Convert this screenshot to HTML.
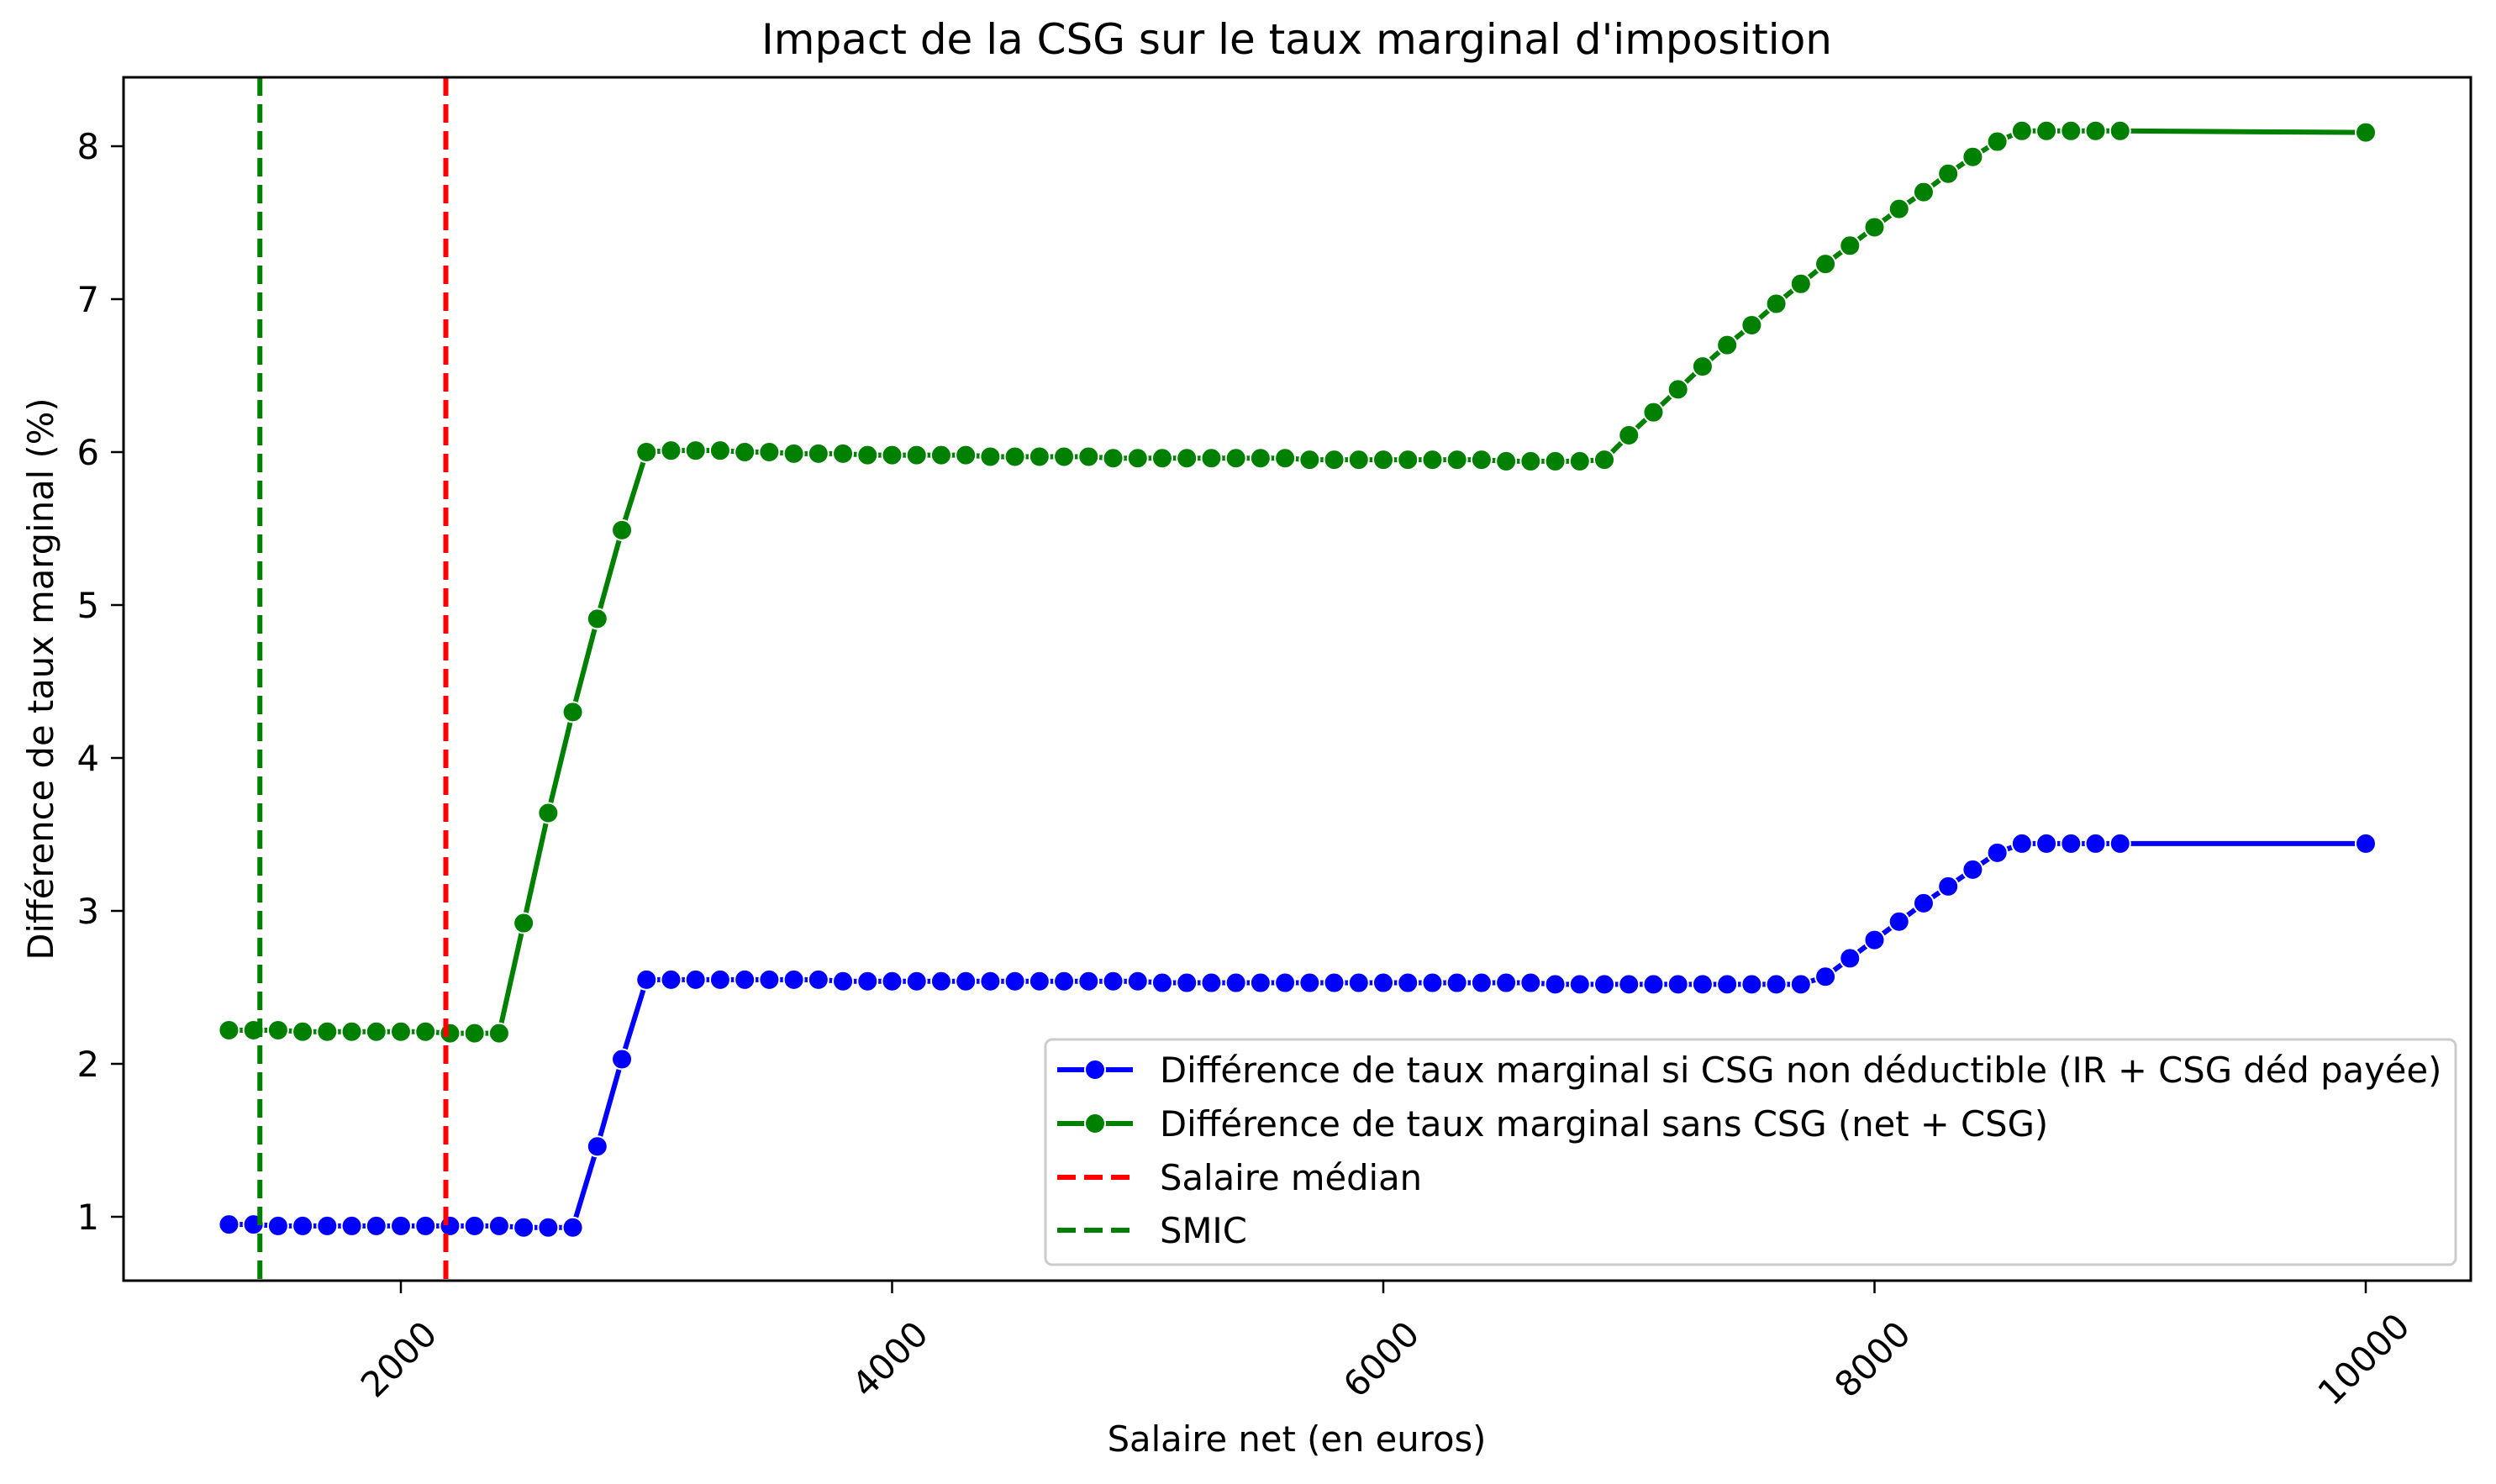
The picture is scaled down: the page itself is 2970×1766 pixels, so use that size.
<!DOCTYPE html>
<html><head><meta charset="utf-8"><style>
html,body{margin:0;padding:0;background:#fff;}
svg{display:block;font-family:"DejaVu Sans","Liberation Sans",sans-serif;}
</style></head><body>
<svg id="chart" width="2970" height="1766" viewBox="0 0 2970 1766" xmlns="http://www.w3.org/2000/svg">
<rect width="2970" height="1766" fill="#fff"/>
<text x="1543" y="64" font-size="50" text-anchor="middle">Impact de la CSG sur le taux marginal d'imposition</text>
<g id="plot"></g>
<rect x="147" y="92" width="2793" height="1432" fill="none" stroke="#000" stroke-width="3"/>
<g id="axes"></g>
<text x="1543" y="1727" font-size="41.7" text-anchor="middle">Salaire net (en euros)</text>
<text transform="translate(63,808) rotate(-90)" font-size="41.7" text-anchor="middle">Différence de taux marginal (%)</text>
<g>
<rect x="1244" y="1237" width="1678" height="268" rx="8" fill="#fff" fill-opacity="0.8" stroke="#ccc" stroke-width="3"/>
<g>
<line x1="1258" y1="1273" x2="1348" y2="1273" stroke="#0000ff" stroke-width="6"/>
<circle cx="1303" cy="1273" r="12" fill="#0000ff" stroke="#fff" stroke-width="2"/>
<text x="1380" y="1288" font-size="41.7">Différence de taux marginal si CSG non déductible (IR + CSG déd payée)</text></g>
<g>
<line x1="1258" y1="1337" x2="1348" y2="1337" stroke="#008000" stroke-width="6"/>
<circle cx="1303" cy="1337" r="12" fill="#008000" stroke="#fff" stroke-width="2"/>
<text x="1380" y="1352" font-size="41.7">Différence de taux marginal sans CSG (net + CSG)</text></g>
<g>
<line x1="1258" y1="1401" x2="1348" y2="1401" stroke="#ff0000" stroke-width="6" stroke-dasharray="22 10"/>
<text x="1380" y="1416" font-size="41.7">Salaire médian</text></g>
<g>
<line x1="1258" y1="1464" x2="1348" y2="1464" stroke="#008000" stroke-width="6" stroke-dasharray="22 10"/>
<text x="1380" y="1479" font-size="41.7">SMIC</text></g>
</g>
</svg>
<script>
const xs = [];
for (let v = 1300; v <= 9000; v += 100) xs.push(v);
xs.push(10000);
const blueVals = [0.95,0.95,0.94,0.94,0.94,0.94,0.94,0.94,0.94,0.94,0.94,0.94,0.93,0.93,0.93,
1.46,2.03,2.55,2.55,2.55,2.55,2.55,2.55,2.55,2.55,2.54,2.54,2.54,2.54,2.54,2.54,2.54,2.54,2.54,2.54,2.54,2.54,2.54,2.53,2.53,2.53,2.53,2.53,2.53,2.53,2.53,2.53,2.53,2.53,2.53,2.53,2.53,2.53,2.53,2.52,2.52,2.52,2.52,2.52,2.52,2.52,2.52,2.52,2.52,2.52,
2.57,2.69,2.81,2.93,3.05,3.16,3.27,3.38,3.44,3.44,3.44,3.44,3.44,3.44];
const greenVals = [2.22,2.22,2.22,2.21,2.21,2.21,2.21,2.21,2.21,2.20,2.20,2.20,
2.92,3.64,4.30,4.91,5.49,6.00,6.01,6.01,6.01,6.00,6.00,5.99,5.99,5.99,5.98,5.98,5.98,5.98,5.98,5.97,5.97,5.97,5.97,5.97,5.96,5.96,5.96,5.96,5.96,5.96,5.96,5.96,5.95,5.95,5.95,5.95,5.95,5.95,5.95,5.95,5.94,5.94,5.94,5.94,5.95,
6.11,6.26,6.41,6.56,6.70,6.83,6.97,7.10,7.23,7.35,7.47,7.59,7.70,7.82,7.93,8.03,8.10,8.10,8.10,8.10,8.10,8.09];
const xTicks = [2000,4000,6000,8000,10000];
const yTicks = [1,2,3,4,5,6,7,8];
const smicX = 1426;
const medianX = 2183;

const NS = "http://www.w3.org/2000/svg";
const X = v => 477 + (v - 2000) * 0.29225;
const Y = v => 1448 - (v - 1) * 182;
const plot = document.getElementById('plot');
const axes = document.getElementById('axes');
function mk(tag, attrs, parent) {
  const e = document.createElementNS(NS, tag);
  for (const k in attrs) e.setAttribute(k, attrs[k]);
  parent.appendChild(e);
  return e;
}
function vline(x, color, name) {
  const l = mk('line', {x1: X(x), x2: X(x), y1: 92, y2: 1524, stroke: color, 'stroke-width': 6, 'stroke-dasharray': '22 10'}, plot);
  
  
}
function series(vals, color, name) {
  const g = mk('g', {}, plot);
  
  
  const pts = vals.map((v, i) => X(xs[i]) + ',' + Y(v)).join(' ');
  const pl = mk('polyline', {points: pts, fill: 'none', stroke: color, 'stroke-width': 6, 'stroke-linejoin': 'round'}, g);
  
  
  vals.forEach((v, i) => {
    const c = mk('circle', {cx: X(xs[i]), cy: Y(v), r: 12, fill: color, stroke: '#fff', 'stroke-width': 2}, g);
    
    
  });
}
series(blueVals, '#0000ff', 'series-csg-non-deductible');
series(greenVals, '#008000', 'series-sans-csg');
vline(medianX, '#ff0000', 'median-salary-line');
vline(smicX, '#008000', 'smic-line');

xTicks.forEach(t => {
  const x = X(t);
  const l = mk('line', {x1: x, x2: x, y1: 1524, y2: 1539, stroke: '#000', 'stroke-width': 2.5}, axes);
  
  
  const tx = mk('text', {transform: `translate(${x},${1620}) rotate(-45)`, 'font-size': 41.7, 'text-anchor': 'middle', 'dominant-baseline': 'middle'}, axes);
  tx.textContent = t;
  
  
});
yTicks.forEach(t => {
  const y = Y(t);
  const l = mk('line', {x1: 132, x2: 147, y1: y, y2: y, stroke: '#000', 'stroke-width': 2.5}, axes);
  
  
  const tx = mk('text', {x: 118, y: y + 15, 'font-size': 41.7, 'text-anchor': 'end'}, axes);
  tx.textContent = t;
  
  
});
</script>
</body></html>
